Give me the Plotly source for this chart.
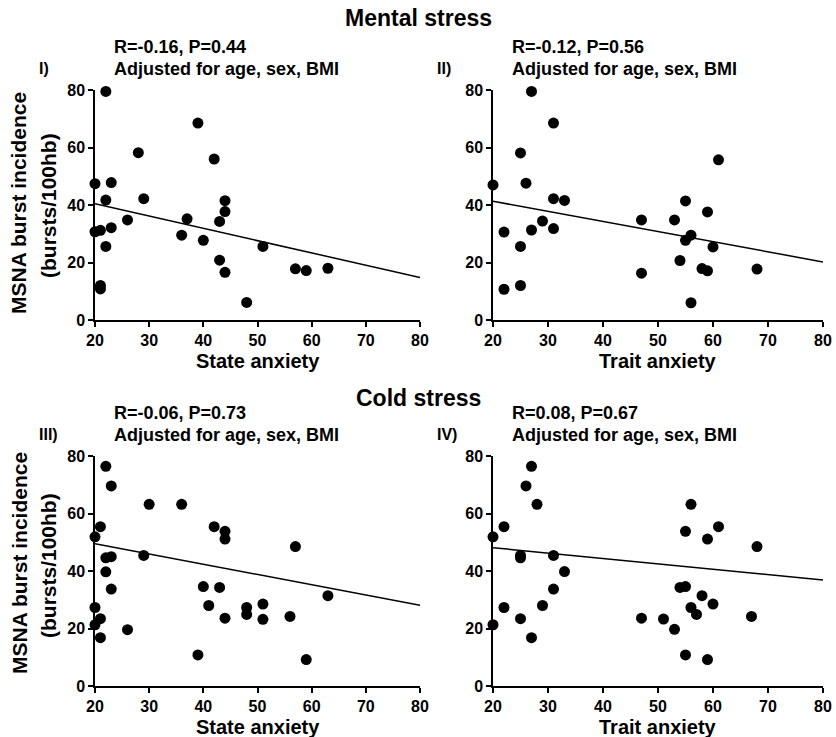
import plotly.graph_objects as go

W, H = 836, 737

# ---- data ----
state_mental_x = [22, 39, 28, 42, 23, 20, 22, 29, 20, 21, 23, 22, 21, 21, 26, 36, 37, 40, 43, 44, 44, 43, 44, 48, 51, 57, 59, 63]
state_mental_y = [79.5, 68.5, 58.2, 56.0, 47.8, 47.4, 41.7, 42.2, 30.7, 31.2, 32.1, 25.6, 12.0, 10.8, 34.8, 29.5, 35.2, 27.7, 34.3, 41.5, 37.7, 20.8, 16.6, 6.1, 25.6, 17.8, 17.2, 18.0]
trait_mental_x = [27, 31, 25, 61, 26, 20, 22, 25, 22, 25, 27, 29, 31, 31, 33, 47, 47, 53, 55, 55, 56, 54, 59, 60, 58, 59, 56, 68]
trait_mental_y = [79.5, 68.5, 58.1, 55.7, 47.6, 47.0, 30.6, 25.6, 10.7, 12.0, 31.3, 34.4, 42.2, 31.8, 41.6, 34.8, 16.3, 34.8, 41.4, 27.7, 29.5, 20.7, 37.6, 25.4, 17.9, 17.1, 6.0, 17.7]
state_cold_x = [22, 23, 30, 36, 21, 20, 42, 44, 44, 57, 22, 23, 22, 23, 29, 20, 20, 21, 21, 26, 39, 40, 43, 41, 44, 48, 48, 51, 51, 56, 59, 63]
state_cold_y = [76.4, 69.6, 63.2, 63.2, 55.4, 51.9, 55.4, 53.8, 51.1, 48.5, 44.6, 45.0, 39.7, 33.7, 45.4, 27.3, 21.3, 23.4, 16.8, 19.6, 10.8, 34.6, 34.3, 28.0, 23.6, 27.3, 24.9, 28.5, 23.2, 24.2, 9.2, 31.4]
trait_cold_x = [27, 26, 28, 22, 20, 56, 55, 59, 61, 68, 25, 25, 31, 33, 31, 22, 20, 25, 27, 29, 47, 51, 53, 54, 55, 55, 56, 57, 58, 59, 60, 67]
trait_cold_y = [76.4, 69.6, 63.2, 55.4, 51.9, 63.2, 53.8, 51.1, 55.4, 48.5, 45.4, 44.6, 45.4, 39.8, 33.7, 27.3, 21.3, 23.4, 16.8, 28.0, 23.6, 23.3, 19.7, 34.3, 34.6, 10.8, 27.3, 24.9, 31.4, 9.2, 28.5, 24.2]

fit_x = [20, 80]
fit_state_mental = [40.4, 14.8]
fit_trait_mental = [41.3, 20.2]
fit_state_cold = [49.5, 28.1]
fit_trait_cold = [48.1, 36.9]

stats_text = ["R=-0.16, P=0.44", "R=-0.12, P=0.56", "R=-0.06, P=0.73", "R=0.08, P=0.67"]
panel_labels = ["I)", "II)", "III)", "IV)"]
x_titles = ["State anxiety", "Trait anxiety", "State anxiety", "Trait anxiety"]
section_titles = ["Mental stress", "Cold stress"]
x_ticks = [20, 30, 40, 50, 60, 70, 80]
y_ticks = [0, 20, 40, 60, 80]

FONT = "Liberation Sans, Arial, sans-serif"

def px(x):
    return x / W

def py(y):
    return 1 - y / H

# panel boxes in pixel coordinates: (left, right, top, bottom)
boxes = [(95, 420, 90, 320), (493, 823, 90, 320), (95, 420, 456, 686), (493, 823, 456, 686)]
scatter = [(state_mental_x, state_mental_y, fit_state_mental),
           (trait_mental_x, trait_mental_y, fit_trait_mental),
           (state_cold_x, state_cold_y, fit_state_cold),
           (trait_cold_x, trait_cold_y, fit_trait_cold)]

fig = go.Figure()
layout = dict(width=W, height=H, autosize=False, margin=dict(l=0, r=0, t=0, b=0, pad=0, autoexpand=False),
              paper_bgcolor="white", plot_bgcolor="white", showlegend=False,
              font=dict(family=FONT, color="black"))
annotations = []

for i, ((l, r, t, b), (xs, ys, fit)) in enumerate(zip(boxes, scatter)):
    n = i + 1
    xa = "x" if n == 1 else f"x{n}"
    ya = "y" if n == 1 else f"y{n}"
    fig.add_trace(go.Scatter(x=fit_x, y=fit, mode="lines", xaxis=xa, yaxis=ya,
                             line=dict(color="black", width=1.5), hoverinfo="skip"))
    fig.add_trace(go.Scatter(x=xs, y=ys, mode="markers", xaxis=xa, yaxis=ya,
                             marker=dict(color="black", size=11), cliponaxis=False))
    axis_common = dict(showline=True, linecolor="black", linewidth=1.5, ticks="outside",
                       ticklen=5, tickwidth=1.5, tickcolor="black", showgrid=False, zeroline=False,
                       automargin=False,
                       tickfont=dict(family=FONT, size=16, color="black"))
    layout["xaxis" if n == 1 else f"xaxis{n}"] = dict(
        domain=[px(l), px(r)], anchor=ya, range=[20, 80], tickvals=x_ticks,
        ticktext=[f"<b>{v}</b>" for v in x_ticks], **axis_common)
    layout["yaxis" if n == 1 else f"yaxis{n}"] = dict(
        domain=[py(b), py(t)], anchor=xa, range=[0, 80], tickvals=y_ticks,
        ticktext=[f"<b>{v}</b>" for v in y_ticks], **axis_common)

    # stats text
    annotations.append(dict(text=f"<b>{stats_text[i]}</b>", x=px(l + 17), y=py(t - 43),
                            xref="paper", yref="paper", xanchor="left", yanchor="middle",
                            showarrow=False, font=dict(size=18)))
    annotations.append(dict(text="<b>Adjusted for age, sex, BMI</b>", x=px(l + 17), y=py(t - 21),
                            xref="paper", yref="paper", xanchor="left", yanchor="middle",
                            showarrow=False, font=dict(size=18)))
    annotations.append(dict(text=f"<b>{panel_labels[i]}</b>", x=px(l - 58), y=py(t - 22),
                            xref="paper", yref="paper", xanchor="left", yanchor="middle",
                            showarrow=False, font=dict(size=16)))
    annotations.append(dict(text=f"<b>{x_titles[i]}</b>", x=px((l + r) / 2), y=py(b + 41),
                            xref="paper", yref="paper", xanchor="center", yanchor="middle",
                            showarrow=False, font=dict(size=20)))

# section titles
for title, yc in [(section_titles[0], 18), (section_titles[1], 398)]:
    annotations.append(dict(text=f"<b>{title}</b>", x=px(418), y=py(yc), xref="paper", yref="paper",
                            xanchor="center", yanchor="middle", showarrow=False, font=dict(size=23)))

# y axis titles
for yc in [203, 563]:
    annotations.append(dict(text="<b>MSNA burst incidence</b>", x=px(19), y=py(yc), xref="paper",
                            yref="paper", xanchor="center", yanchor="middle", textangle=-90,
                            showarrow=False, font=dict(size=21)))
    annotations.append(dict(text="<b>(bursts/100hb)</b>", x=px(48), y=py(yc + 3), xref="paper",
                            yref="paper", xanchor="center", yanchor="middle", textangle=-90,
                            showarrow=False, font=dict(size=21)))

layout["annotations"] = annotations
fig.update_layout(**layout)
fig.write_html("out.html", config={"displayModeBar": False},
               post_script="document.body.style.margin='0';document.body.style.padding='0';document.body.style.overflow='hidden';")
